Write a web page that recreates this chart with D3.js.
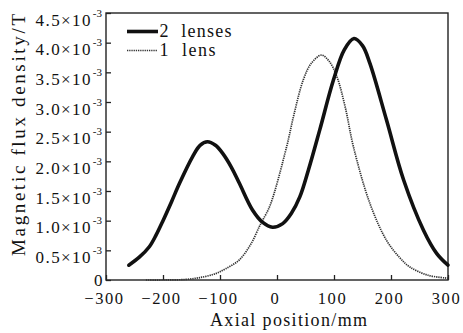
<!DOCTYPE html>
<html>
<head>
<meta charset="utf-8">
<script src="https://cdn.jsdelivr.net/npm/d3@7"></script>
<style>
  body { margin: 0; background: #fff; }
  svg text { font-family: "Liberation Serif", "Times New Roman", "DejaVu Serif", serif; }
</style>
</head>
<body>
<svg id="chart" width="463" height="333"></svg>
<script>
// axial position (mm) and flux density (x10^-3 T)
const twoLensX = [-260, -242, -224, -212, -200, -185, -171, -148, -135, -122, -108, -95, -80, -66, -43, -25, -8, 10, 25, 40, 55, 75, 99, 118, 135, 150, 163, 192, 222, 257, 280, 300];
const twoLensY = [0.25, 0.38, 0.56, 0.76, 1.00, 1.32, 1.63, 2.08, 2.27, 2.33, 2.27, 2.13, 1.90, 1.63, 1.18, 0.97, 0.89, 0.95, 1.12, 1.40, 1.85, 2.53, 3.37, 3.88, 4.07, 3.95, 3.65, 2.70, 1.69, 0.84, 0.45, 0.25];
const oneLensX = [-230, -200, -160, -130, -107, -90, -66, -45, -31, -25, -12, 17, 30, 46, 60, 78, 92, 105, 120, 134, 163, 192, 215, 233, 265, 300];
const oneLensY = [0.0, 0.0, 0.01, 0.05, 0.11, 0.19, 0.34, 0.62, 0.90, 1.01, 1.26, 2.25, 2.80, 3.37, 3.65, 3.79, 3.68, 3.43, 2.90, 2.25, 1.29, 0.67, 0.38, 0.22, 0.08, 0.03];
const xTicks = [-300, -200, -100, 0, 100, 200, 300];
const yTicks = [0, 0.5, 1.0, 1.5, 2.0, 2.5, 3.0, 3.5, 4.0, 4.5];
const legendLabels = ['2  lenses', '1  lens'];

const svg = d3.select('#chart');
const plotL = 106, plotR = 448, plotT = 13, plotB = 280;
const serif = '"Liberation Serif", "Times New Roman", "DejaVu Serif", serif';

const x = d3.scaleLinear().domain([-300, 300]).range([plotL, plotR]);
const y = d3.scaleLinear().domain([0, 4.5]).range([plotB, plotT]);

const line = d3.line()
    .x(d => x(d[0]))
    .y(d => y(d[1]))
    .curve(d3.curveCatmullRom.alpha(0.5));

// frame
svg.append('rect')
    .attr('x', plotL).attr('y', plotT)
    .attr('width', plotR - plotL).attr('height', plotB - plotT)
    .attr('fill', 'none').attr('stroke', '#222').attr('stroke-width', 1.4);

// x axis, ticks pointing inward
const xAxis = svg.append('g')
    .attr('transform', `translate(0,${plotB})`)
    .call(d3.axisBottom(x).tickValues(xTicks).tickSizeInner(-5).tickSizeOuter(0)
      .tickFormat(d => d < 0 ? '\u2212' + Math.abs(d) : d));
xAxis.attr('font-family', serif);
xAxis.select('.domain').remove();
xAxis.selectAll('line').attr('stroke', '#222').attr('stroke-width', 1.3);
xAxis.selectAll('text')
    .attr('y', 24).attr('dy', 0).attr('dx', -2)
    .attr('font-size', 16.5).attr('letter-spacing', 1.6)
    .attr('fill', '#111');

// y axis, ticks pointing inward, labels with superscript exponent
const yAxis = svg.append('g')
    .attr('transform', `translate(${plotL},0)`)
    .call(d3.axisLeft(y).tickValues(yTicks).tickSizeInner(-5).tickSizeOuter(0).tickFormat(''));
yAxis.attr('font-family', serif);
yAxis.select('.domain').remove();
yAxis.selectAll('line').attr('stroke', '#222').attr('stroke-width', 1.3);
yAxis.selectAll('.tick text').remove();
yAxis.selectAll('.tick').each(function(d) {
  const t = d3.select(this);
  if (d === 0) {
    t.append('text').attr('x', -3.5).attr('y', 5.5)
      .attr('text-anchor', 'end').attr('font-size', 17).attr('fill', '#111')
      .text('0');
    return;
  }
  t.append('text').attr('x', -15.5).attr('y', 12)
    .attr('text-anchor', 'end').attr('font-size', 17).attr('fill', '#111')
    .attr('textLength', 55).attr('lengthAdjust', 'spacing')
    .text(d.toFixed(1) + '\u00d710');
  t.append('text').attr('x', -4).attr('y', 3)
    .attr('text-anchor', 'end').attr('font-size', 11).attr('fill', '#111')
    .text('-3');
});

// curves
svg.append('path')
    .datum(d3.zip(oneLensX, oneLensY))
    .attr('d', line)
    .attr('fill', 'none').attr('stroke', '#333')
    .attr('stroke-width', 1.7).attr('stroke-dasharray', '1.3,0.9');

svg.append('path')
    .datum(d3.zip(twoLensX, twoLensY))
    .attr('d', line)
    .attr('fill', 'none').attr('stroke', '#111')
    .attr('stroke-width', 3.6).attr('stroke-linecap', 'round');

// legend
const legend = svg.append('g').attr('font-family', serif);
legend.append('line')
    .attr('x1', 127).attr('x2', 158).attr('y1', 31.5).attr('y2', 31.5)
    .attr('stroke', '#111').attr('stroke-width', 3.6);
legend.append('line')
    .attr('x1', 127).attr('x2', 157).attr('y1', 50.5).attr('y2', 50.5)
    .attr('stroke', '#333').attr('stroke-width', 1.5).attr('stroke-dasharray', '1.3,0.9');
legend.append('text')
    .attr('x', 159.5).attr('y', 36.5).attr('font-size', 18).attr('fill', '#111')
    .attr('textLength', 72).attr('lengthAdjust', 'spacing')
    .attr('xml:space', 'preserve')
    .text(legendLabels[0]);
legend.append('text')
    .attr('x', 159.5).attr('y', 55.5).attr('font-size', 18).attr('fill', '#111')
    .attr('textLength', 56).attr('lengthAdjust', 'spacing')
    .attr('xml:space', 'preserve')
    .text(legendLabels[1]);

// axis titles
svg.append('text')
    .attr('x', 210).attr('y', 325.5)
    .attr('font-family', serif)
    .attr('font-size', 18).attr('fill', '#111')
    .attr('textLength', 157).attr('lengthAdjust', 'spacing')
    .text('Axial position/mm');

svg.append('text')
    .attr('transform', 'translate(25,135) rotate(-90)')
    .attr('text-anchor', 'middle')
    .attr('font-family', serif)
    .attr('font-size', 19).attr('fill', '#111')
    .attr('textLength', 242).attr('lengthAdjust', 'spacing')
    .text('Magnetic flux density/T');
</script>
</body>
</html>
